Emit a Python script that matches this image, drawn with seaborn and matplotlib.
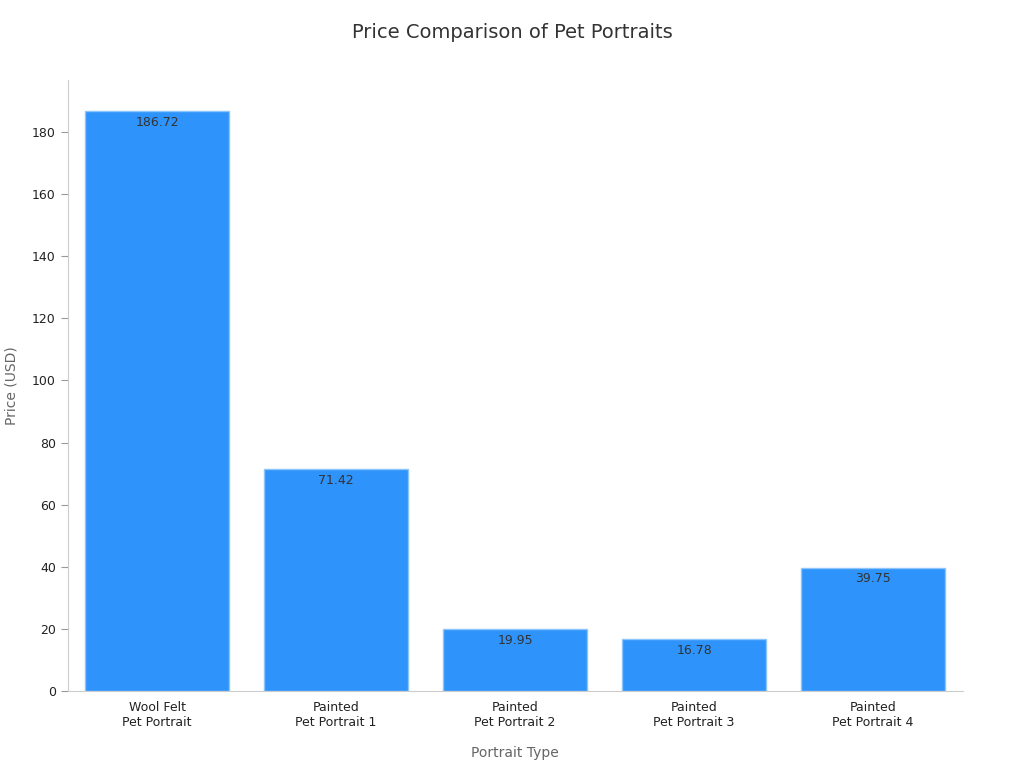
import matplotlib
matplotlib.use("Agg")
import matplotlib.pyplot as plt
import seaborn as sns
import pandas as pd

categories = ["Wool Felt\nPet Portrait", "Painted\nPet Portrait 1", "Painted\nPet Portrait 2",
              "Painted\nPet Portrait 3", "Painted\nPet Portrait 4"]
prices = [186.72, 71.42, 19.95, 16.78, 39.75]

sns.set_style("white")
plt.rcParams['font.family'] = ['DejaVu Sans']

df = pd.DataFrame({"type": categories, "price": prices})
fig = plt.figure(figsize=(10.24, 7.68), dpi=100)
ax = fig.add_axes([0.066, 0.100, 0.874, 0.796])
sns.barplot(data=df, x="type", y="price", color="#2E93FA", saturation=1,
            width=0.8, edgecolor="#8CC4FC", linewidth=1, ax=ax)

for i, v in enumerate(prices):
    ax.text(i, v - 1.5, f"{v:.2f}", ha="center", va="top", fontsize=9, color="#333333")

ax.set_ylim(0, 196.7)
ax.set_xlim(-0.5, 4.5)
ax.set_yticks(range(0, 181, 20))
ax.tick_params(axis="y", left=True, length=5, color="#999999", labelsize=9, labelcolor="#222222")
ax.tick_params(axis="x", bottom=False, labelsize=9, labelcolor="#222222")
for s in ["top", "right"]:
    ax.spines[s].set_visible(False)
for s in ["left", "bottom"]:
    ax.spines[s].set_color("#CCCCCC")
ax.set_xlabel("Portrait Type", fontsize=10, color="#666666", labelpad=12)
ax.set_ylabel("Price (USD)", fontsize=10, color="#666666", labelpad=10)
fig.suptitle("Price Comparison of Pet Portraits", fontsize=14, color="#333333", y=0.97)

fig.savefig("out.png", dpi=100)
